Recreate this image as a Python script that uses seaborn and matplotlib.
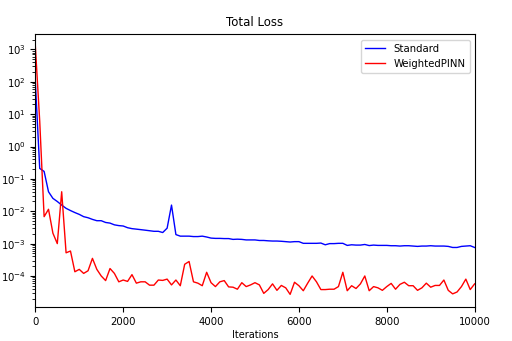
import numpy as np
import pandas as pd
import matplotlib
matplotlib.use("Agg")
import matplotlib.pyplot as plt
import seaborn as sns

iterations = list(range(0, 10001, 100))

standard = [
    1.0e2, 0.21, 0.17, 0.04, 0.025, 0.02, 0.0155, 0.0123, 0.0105, 0.0091,
    0.0080, 0.0068, 0.0063, 0.0056, 0.0051, 0.0051, 0.0045, 0.0043, 0.0038, 0.0036,
    0.0035, 0.0031, 0.0029, 0.0028, 0.0027, 0.0026, 0.0025, 0.0024, 0.0024, 0.0022,
    0.0030, 0.0155, 0.0019, 0.0017, 0.0017, 0.0017, 0.00165, 0.00165, 0.0017, 0.0016,
    0.00148, 0.00145, 0.00145, 0.00143, 0.00143, 0.00135, 0.00137, 0.00135, 0.00130, 0.00130,
    0.00130, 0.00125, 0.00125, 0.00122, 0.00120, 0.00120, 0.00118, 0.00115, 0.00112, 0.00115,
    0.00115, 0.00102, 0.00102, 0.00102, 0.00102, 0.00104, 0.00092, 0.00100, 0.00100, 0.00102,
    0.00102, 0.00088, 0.00092, 0.00090, 0.00090, 0.00094, 0.00087, 0.00090, 0.00088, 0.00088,
    0.00088, 0.00086, 0.00086, 0.00084, 0.00086, 0.00086, 0.00084, 0.00082, 0.00084, 0.00084,
    0.00086, 0.00084, 0.00084, 0.00084, 0.00082, 0.00076, 0.00076, 0.00082, 0.00084, 0.00086,
    0.00076,
]

weighted = [
    1.3e3, 6.0, 0.0068, 0.0115, 0.0021, 0.0010, 0.04, 0.00052, 0.00059, 1.35e-4,
    1.6e-4, 1.2e-4, 1.45e-4, 3.5e-4, 1.6e-4, 1.0e-4, 7.2e-5, 1.7e-4, 1.2e-4, 6.6e-5,
    7.5e-5, 6.8e-5, 1.1e-4, 6.0e-5, 6.6e-5, 6.6e-5, 5.2e-5, 5.2e-5, 7.5e-5, 7.3e-5,
    8.0e-5, 5.3e-5, 7.5e-5, 5.0e-5, 2.3e-4, 2.8e-4, 6.6e-5, 6.0e-5, 5.0e-5, 1.3e-4,
    6.2e-5, 4.7e-5, 6.6e-5, 7.2e-5, 4.6e-5, 4.5e-5, 3.9e-5, 6.2e-5, 4.7e-5, 5.3e-5,
    6.2e-5, 5.3e-5, 2.9e-5, 3.8e-5, 5.7e-5, 3.6e-5, 5.1e-5, 4.3e-5, 2.7e-5, 6.4e-5,
    5.0e-5, 3.5e-5, 6.0e-5, 1.0e-4, 6.6e-5, 3.8e-5, 3.8e-5, 3.9e-5, 3.9e-5, 4.7e-5,
    1.3e-4, 3.5e-5, 5.0e-5, 4.1e-5, 5.7e-5, 1.0e-4, 3.5e-5, 4.7e-5, 4.3e-5, 3.6e-5,
    4.7e-5, 5.9e-5, 3.9e-5, 5.5e-5, 6.4e-5, 5.0e-5, 5.0e-5, 3.6e-5, 4.3e-5, 6.0e-5,
    4.5e-5, 5.1e-5, 5.1e-5, 7.5e-5, 3.6e-5, 2.8e-5, 3.2e-5, 4.7e-5, 8.0e-5, 3.8e-5,
    5.7e-5,
]

series_names = ["Standard", "WeightedPINN"]
colors = {"Standard": "blue", "WeightedPINN": "red"}
y_major = [1e-4, 1e-3, 1e-2, 1e-1, 1e0, 1e1, 1e2, 1e3]

df = pd.DataFrame({
    "Iterations": iterations * 2,
    "Loss": standard + weighted,
    "Method": [series_names[0]] * len(iterations) + [series_names[1]] * len(iterations),
})

plt.rcParams["font.family"] = ["DejaVu Sans"]
fig = plt.figure(figsize=(5.12, 3.41), dpi=100)
ax = fig.add_axes([0.069, 0.0997, 0.858, 0.7993])

sns.lineplot(data=df, x="Iterations", y="Loss", hue="Method", palette=colors,
             linewidth=1.0, ax=ax, estimator=None)
ax.set_yscale("log")
ax.set_xlim(0, 10000)
ax.set_ylim(1.1e-5, 2.9e3)
ax.set_yticks(y_major)
ax.set_xticks([0, 2000, 4000, 6000, 8000, 10000])
ax.set_title("Total Loss", fontsize=8.5)
ax.set_xlabel("Iterations", fontsize=7, labelpad=2)
ax.set_ylabel("")
ax.tick_params(labelsize=7.3)
leg = ax.legend(loc="upper right", fontsize=7.3, title=None)

fig.savefig("out.png", dpi=100)
